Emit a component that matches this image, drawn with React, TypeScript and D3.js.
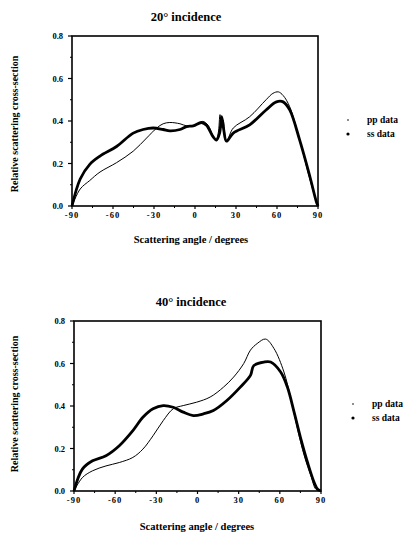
import React from "react";
import * as d3 from "d3";

// ---- data ----
const angles20pp = [-90, -84, -77, -69.5, -57.4, -45.2, -35.4, -28, -23.3, -18.4, -11, -6.2, -1.3, 3.5, 6, 9.6, 13.3, 15.2, 17, 18.3, 19.5, 20.6, 23, 28, 40, 52, 57, 61, 64.5, 69.3, 76.6, 84, 88.8, 90];
const values20pp = [0, 0.08, 0.12, 0.16, 0.204, 0.258, 0.32, 0.367, 0.387, 0.393, 0.387, 0.377, 0.377, 0.393, 0.398, 0.38, 0.328, 0.31, 0.343, 0.43, 0.37, 0.405, 0.305, 0.367, 0.42, 0.5, 0.53, 0.537, 0.52, 0.467, 0.31, 0.127, 0.02, 0];

const angles20ss = [-90, -84, -77, -69.5, -57.4, -45.2, -38, -30.6, -23.3, -18.4, -11, -6.2, -1.3, 4.8, 8.4, 13.3, 15.7, 18, 19.5, 21, 23, 28, 40, 52, 59.6, 64.5, 69.3, 76.6, 84, 88.8, 90];
const values20ss = [0, 0.127, 0.196, 0.235, 0.28, 0.343, 0.36, 0.367, 0.36, 0.354, 0.36, 0.374, 0.377, 0.393, 0.38, 0.325, 0.31, 0.343, 0.42, 0.36, 0.305, 0.343, 0.382, 0.452, 0.49, 0.49, 0.452, 0.31, 0.14, 0.02, 0];

const angles40pp = [-90, -83.9, -76.5, -66.7, -57, -47.1, -39.8, -32.4, -25, -17.7, -10.4, -0.6, 9.2, 19, 26.3, 33.7, 38.6, 43.5, 49.6, 55.7, 63, 68, 72.9, 77.8, 82.7, 86.3, 90];
const values40pp = [0, 0.063, 0.095, 0.118, 0.134, 0.158, 0.197, 0.26, 0.331, 0.387, 0.402, 0.418, 0.442, 0.489, 0.536, 0.6, 0.663, 0.694, 0.715, 0.671, 0.56, 0.434, 0.292, 0.166, 0.071, 0.008, 0];

const angles40ss = [-90, -83.9, -76.5, -66.7, -57, -47.1, -39.8, -32.4, -25, -17.7, -10.4, -3.1, 4.3, 11.6, 21.4, 31.2, 38.6, 41, 48.4, 53.3, 60.6, 65.5, 70.4, 75.3, 80.2, 85.1, 87.6, 90];
const values40ss = [0, 0.103, 0.142, 0.166, 0.213, 0.284, 0.347, 0.387, 0.402, 0.394, 0.371, 0.355, 0.363, 0.379, 0.426, 0.489, 0.544, 0.59, 0.607, 0.607, 0.56, 0.489, 0.371, 0.245, 0.134, 0.039, 0.008, 0];

const xTicks = [-90, -60, -30, 0, 30, 60, 90];
const xMinorTicks = [-75, -45, -15, 15, 45, 75];
const yTicks = [0, 0.2, 0.4, 0.6, 0.8];
const yMinorTicks = [0.1, 0.3, 0.5, 0.7];
const legendLabels = ["pp data", "ss data"];
const titles = ["20° incidence", "40° incidence"];
const xAxisLabel = "Scattering angle / degrees";
const yAxisLabel = "Relative scattering cross-section";

type Panel = {
  title: string;
  left: number; right: number; top: number; bottom: number;
  titleX: number; titleY: number;
  xLabelX: number; xLabelY: number;
  yLabelX: number; yLabelY: number;
  legX: number; legY: number;
  pp: [number[], number[]];
  ss: [number[], number[]];
};

const panels: Panel[] = [
  {
    title: titles[0], left: 72, right: 318, top: 36, bottom: 206,
    titleX: 186, titleY: 21, xLabelX: 191, xLabelY: 243, yLabelX: 18, yLabelY: 124,
    legX: 348, legY: 123, pp: [angles20pp, values20pp], ss: [angles20ss, values20ss],
  },
  {
    title: titles[1], left: 74, right: 321, top: 321, bottom: 491,
    titleX: 191, titleY: 306, xLabelX: 197, xLabelY: 530, yLabelX: 18, yLabelY: 404,
    legX: 353, legY: 407, pp: [angles40pp, values40pp], ss: [angles40ss, values40ss],
  },
];

const FONT = "'Liberation Serif', 'DejaVu Serif', serif";

function ChartPanel({ p }: { p: Panel }) {
  const x = d3.scaleLinear().domain([-90, 90]).range([p.left, p.right]);
  const y = d3.scaleLinear().domain([0, 0.8]).range([p.bottom, p.top]);
  const line = d3
    .line<[number, number]>()
    .x((d) => x(d[0]))
    .y((d) => y(d[1]))
    .curve(d3.curveCatmullRom.alpha(0.5));
  const ppPts = p.pp[0].map((a, i) => [a, p.pp[1][i]] as [number, number]);
  const ssPts = p.ss[0].map((a, i) => [a, p.ss[1][i]] as [number, number]);
  const fmtX = (v: number) => (v < 0 ? "-" + Math.abs(v) : String(v));
  return (
    <g>
      <text x={p.titleX} y={p.titleY} textAnchor="middle" fontFamily={FONT} fontWeight="bold" fontSize={12.5}>
        {p.title}
      </text>
      <rect x={p.left} y={p.top} width={p.right - p.left} height={p.bottom - p.top} fill="none" stroke="#000" strokeWidth={1.6} />
      {yTicks.map((t) => (
        <g key={"y" + t}>
          <line x1={p.left - 4} x2={p.left} y1={y(t)} y2={y(t)} stroke="#000" strokeWidth={1.2} />
          <text x={p.left - 9} y={y(t) + 3} textAnchor="end" fontFamily={FONT} fontWeight="bold" fontSize={8.5}>
            {t.toFixed(1)}
          </text>
        </g>
      ))}
      {yMinorTicks.map((t) => (
        <line key={"ym" + t} x1={p.left - 2} x2={p.left} y1={y(t)} y2={y(t)} stroke="#000" strokeWidth={1} />
      ))}
      {xTicks.map((t) => (
        <g key={"x" + t}>
          <line x1={x(t)} x2={x(t)} y1={p.bottom} y2={p.bottom + 3} stroke="#000" strokeWidth={1.2} />
          <text x={x(t)} y={p.bottom + 11.5} textAnchor="middle" fontFamily={FONT} fontWeight="bold" fontSize={8.5} letterSpacing={1}>
            {fmtX(t)}
          </text>
        </g>
      ))}
      {xMinorTicks.map((t) => (
        <line key={"xm" + t} x1={x(t)} x2={x(t)} y1={p.bottom} y2={p.bottom + 2} stroke="#000" strokeWidth={1} />
      ))}
      <path d={line(ppPts) || ""} fill="none" stroke="#000" strokeWidth={1} />
      <path d={line(ssPts) || ""} fill="none" stroke="#000" strokeWidth={2.8} />
      <text x={p.xLabelX} y={p.xLabelY} textAnchor="middle" fontFamily={FONT} fontWeight="bold" fontSize={10.5}>
        {xAxisLabel}
      </text>
      <text
        transform={`translate(${p.yLabelX},${p.yLabelY}) rotate(-90)`}
        textAnchor="middle"
        fontFamily={FONT}
        fontWeight="bold"
        fontSize={10}
      >
        {yAxisLabel}
      </text>
      <circle cx={p.legX} cy={p.legY - 3} r={0.8} fill="#000" />
      <text x={p.legX + 19} y={p.legY} fontFamily={FONT} fontWeight="bold" fontSize={9.5}>
        {legendLabels[0]}
      </text>
      <circle cx={p.legX} cy={p.legY + 11} r={1.6} fill="#000" />
      <text x={p.legX + 19} y={p.legY + 14} fontFamily={FONT} fontWeight="bold" fontSize={9.5}>
        {legendLabels[1]}
      </text>
    </g>
  );
}

export default function App() {
  return (
    <svg
      width={411}
      height={534}
      style={{ position: "absolute", left: 0, top: 0, background: "#fff" }}
    >
      <rect width={411} height={534} fill="#fff" />
      {panels.map((p, i) => (
        <ChartPanel key={i} p={p} />
      ))}
    </svg>
  );
}
